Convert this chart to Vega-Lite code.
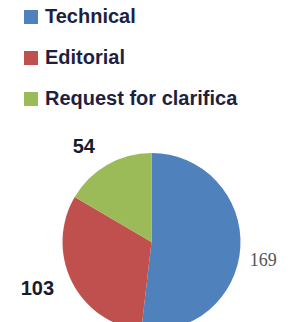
{
  "$schema": "https://vega.github.io/schema/vega-lite/v6.json",
  "width": 303,
  "height": 484,
  "padding": 0,
  "autosize": "none",
  "background": "white",
  "data": {"values": [
    {"category": "Technical", "count": 169, "ord": 1},
    {"category": "Editorial", "count": 103, "ord": 2},
    {"category": "Request for clarification", "count": 54, "ord": 3}
  ]},
  "encoding": {
    "theta": {"field": "count", "type": "quantitative", "stack": true},
    "order": {"field": "ord", "type": "quantitative"}
  },
  "layer": [
    {
      "mark": {"type": "arc", "outerRadius": 89},
      "encoding": {
        "color": {
          "field": "category", "type": "nominal",
          "scale": {"domain": ["Technical", "Editorial", "Request for clarification"], "range": ["#4f81bd", "#c0504d", "#9bbb59"]},
          "legend": {
            "title": null, "orient": "none", "legendX": 21, "legendY": 7,
            "symbolType": "square", "symbolSize": 196, "symbolStrokeWidth": 0,
            "labelFont": "Liberation Sans", "labelFontSize": 20, "labelFontWeight": "bold",
            "labelColor": "#1f1f3f", "rowPadding": 21, "labelOffset": 4, "labelLimit": 300,
            "labelExpr": "substring(datum.label, 0, 21)"
          }
        }
      }
    },
    {
      "mark": {"type": "text", "radius": 116, "dx": -10, "dy": 6, "font": "Liberation Sans", "fontWeight": "bold", "fontSize": 20, "color": "#1a1a2a"},
      "encoding": {"text": {"condition": {"test": "datum.ord != 3", "value": ""}, "field": "count", "type": "quantitative"}}
    },
    {
      "mark": {"type": "text", "radius": 123, "dx": -4, "dy": -8, "font": "Liberation Sans", "fontWeight": "bold", "fontSize": 20, "color": "#1a1a2a"},
      "encoding": {"text": {"condition": {"test": "datum.ord != 2", "value": ""}, "field": "count", "type": "quantitative"}}
    },
    {
      "mark": {"type": "text", "radius": 112, "dy": 13, "font": "Liberation Serif", "fontSize": 18, "color": "#555555"},
      "encoding": {"text": {"condition": {"test": "datum.ord != 1", "value": ""}, "field": "count", "type": "quantitative"}}
    }
  ]
}
